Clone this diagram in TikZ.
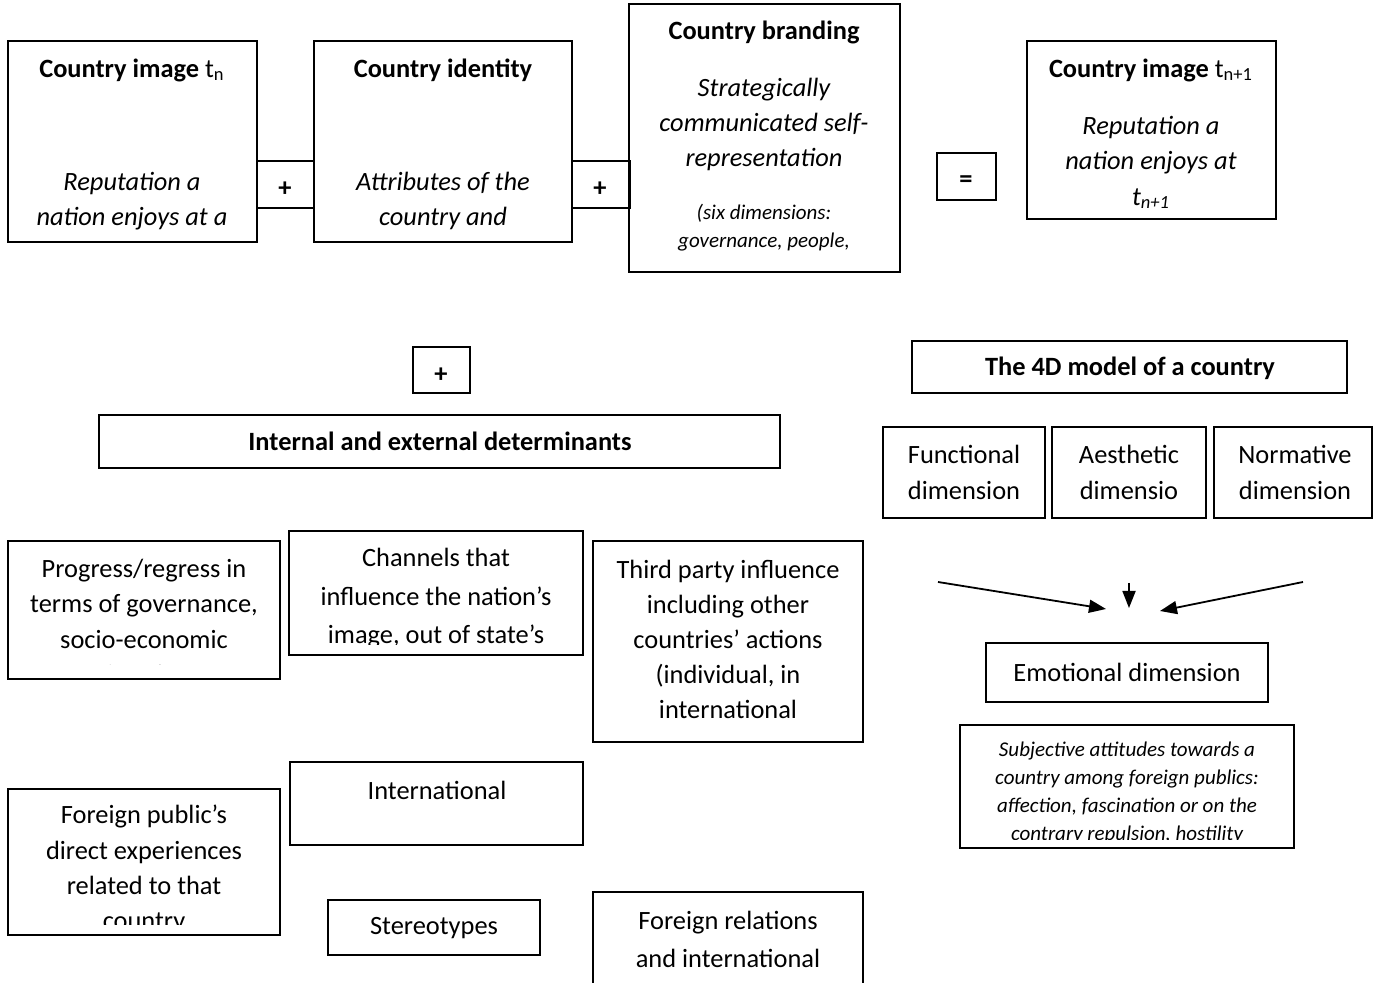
\documentclass[tikz,border=0pt]{standalone}
\usepackage{fontspec}
\setmainfont{Carlito}
\usetikzlibrary{arrows.meta}

\begin{document}
\begin{tikzpicture}[x=0.5pt,y=-0.5pt,>={Triangle[length=8.5pt,width=6.5pt]},
  box/.style={draw=black, line width=1pt, rectangle, inner sep=0pt},
  txt/.style={align=center, inner sep=0pt, font=\fontsize{13.2}{17.6}\selectfont},
  itxt/.style={align=center, inner sep=0pt, font=\fontsize{13.2}{17.6}\selectfont\itshape},
  wide/.style={align=center, inner sep=0pt, font=\fontsize{13.2}{19.3}\selectfont},
  ttl/.style={inner sep=0pt, font=\fontsize{13.2}{17.6}\selectfont\bfseries},
  note/.style={align=center, inner sep=0pt, font=\fontsize{10.5}{14}\selectfont\itshape}]
\clip (0,0) rectangle (1373,983);

% top row
\node[box, minimum width=124.5pt, minimum height=100.5pt] (imgA) at (132.5,141.5) {};
\node[ttl] (imgA-t) at (132,70) {Country image \mdseries t\textsubscript{n}};
\node[itxt] (imgA-b) at (132,201) {Reputation a\\nation enjoys at a};
\node[box, minimum width=28.5pt, minimum height=23.5pt] (plusA) at (285.5,184.5) {};
\node[ttl] (plusA-t) at (285,189) {+};
\node[box, minimum width=129pt, minimum height=100.5pt] (ident) at (443,141.5) {};
\node[ttl] (ident-t) at (443,70) {Country identity};
\node[itxt] (ident-b) at (443,201) {Attributes of the\\country and};
\node[box, minimum width=29pt, minimum height=23.5pt] (plusB) at (601,184.5) {};
\node[ttl] (plusB-t) at (600,189) {+};
\node[box, minimum width=135.5pt, minimum height=134pt] (brand) at (764.5,138) {};
\node[ttl] (brand-t) at (764,32) {Country branding};
\node[itxt] (brand-b) at (764,124.5) {Strategically\\communicated self-\\representation};
\begin{scope}
\clip (629,4) rectangle (900,257);
\node[note] (brand-n) at (764,242) {(six dimensions:\\governance, people,\\culture and heritage,};
\end{scope}
\node[box, minimum width=29.5pt, minimum height=23.5pt] (equal) at (966.5,176.5) {};
\node[ttl] (equal-t) at (966,182) {=};
\node[box, minimum width=124.5pt, minimum height=89pt] (imgB) at (1151.5,130) {};
\node[ttl] (imgB-t) at (1151,70) {Country image \mdseries t\textsubscript{n+1}};
\node[itxt] (imgB-b) at (1151,162.5) {Reputation a\\nation enjoys at\\t\textsubscript{n+1}};

% determinants
\node[box, minimum width=28.5pt, minimum height=23pt] (plusC) at (441.5,370) {};
\node[ttl] (plusC-t) at (441,375) {+};
\node[box, minimum width=340.5pt, minimum height=26.5pt] (determ) at (439.5,441.5) {};
\node[ttl] (determ-t) at (440,441) {Internal and external determinants};
\node[box, minimum width=136pt, minimum height=69pt] (progr) at (144,610) {};
\begin{scope}
\clip (8,541) rectangle (280,665);
\node[txt] (progr-t) at (144,621.5) {Progress/regress in\\terms of governance,\\socio-economic\\situation};
\end{scope}
\node[box, minimum width=147pt, minimum height=62pt] (chan) at (436,593) {};
\begin{scope}
\clip (289,531) rectangle (583,645);
\node[wide] (chan-t) at (436,598.5) {Channels that\\influence the nation’s\\image, out of state’s};
\end{scope}
\node[box, minimum width=135pt, minimum height=100.5pt] (third) at (728,641.5) {};
\node[txt] (third-t) at (728,639.5) {Third party influence\\including other\\countries’ actions\\(individual, in\\international};
\node[box, minimum width=146.5pt, minimum height=41.5pt] (intl) at (436.5,803.5) {};
\node[txt] (intl-t) at (437,790) {International};
\node[box, minimum width=136pt, minimum height=73pt] (foreign) at (144,862) {};
\begin{scope}
\clip (8,789) rectangle (280,925);
\node[txt] (foreign-t) at (144,869.5) {Foreign public’s\\direct experiences\\related to that\\country};
\end{scope}
\node[box, minimum width=106pt, minimum height=27.5pt] (stereo) at (434,927.5) {};
\node[txt] (stereo-t) at (434,928) {Stereotypes};
\node[box, minimum width=135pt, minimum height=55.5pt] (relat) at (728,947.5) {};
\node[wide] (relat-t) at (728,939.5) {Foreign relations\\and international};

% 4D model
\node[box, minimum width=217.5pt, minimum height=26pt] (model) at (1129.5,367) {};
\node[ttl] (model-t) at (1130,368) {The 4D model of a country};
\node[box, minimum width=81pt, minimum height=45.5pt] (func) at (964,472.5) {};
\node[txt] (func-t) at (964,472.5) {Functional\\dimension};
\node[box, minimum width=77pt, minimum height=45.5pt] (aesth) at (1129,472.5) {};
\node[txt] (aesth-t) at (1129,472.5) {Aesthetic\\dimensio};
\node[box, minimum width=79pt, minimum height=45.5pt] (norm) at (1293,472.5) {};
\node[txt] (norm-t) at (1295,472.5) {Normative\\dimension};
\coordinate (fromL) at (938,582);
\coordinate (toL) at (1106,609);
\coordinate (fromM) at (1129,583);
\coordinate (toM) at (1129,608);
\coordinate (fromR) at (1303,582);
\coordinate (toR) at (1160,611);
\draw[->, line width=0.9pt] (fromL) -- (toL);
\draw[->, line width=0.9pt] (fromM) -- (toM);
\draw[->, line width=0.9pt] (fromR) -- (toR);
\node[box, minimum width=141pt, minimum height=29.5pt] (emot) at (1127,672.5) {};
\node[txt] (emot-t) at (1127,672) {Emotional dimension};
\node[box, minimum width=167pt, minimum height=61.5pt] (subj) at (1127,786.5) {};
\begin{scope}
\clip (960,725) rectangle (1294,840);
\node[note] (subj-t) at (1127,792.5) {Subjective attitudes towards a\\country among foreign publics:\\affection, fascination or on the\\contrary repulsion, hostility};
\end{scope}

\end{tikzpicture}
\end{document}
